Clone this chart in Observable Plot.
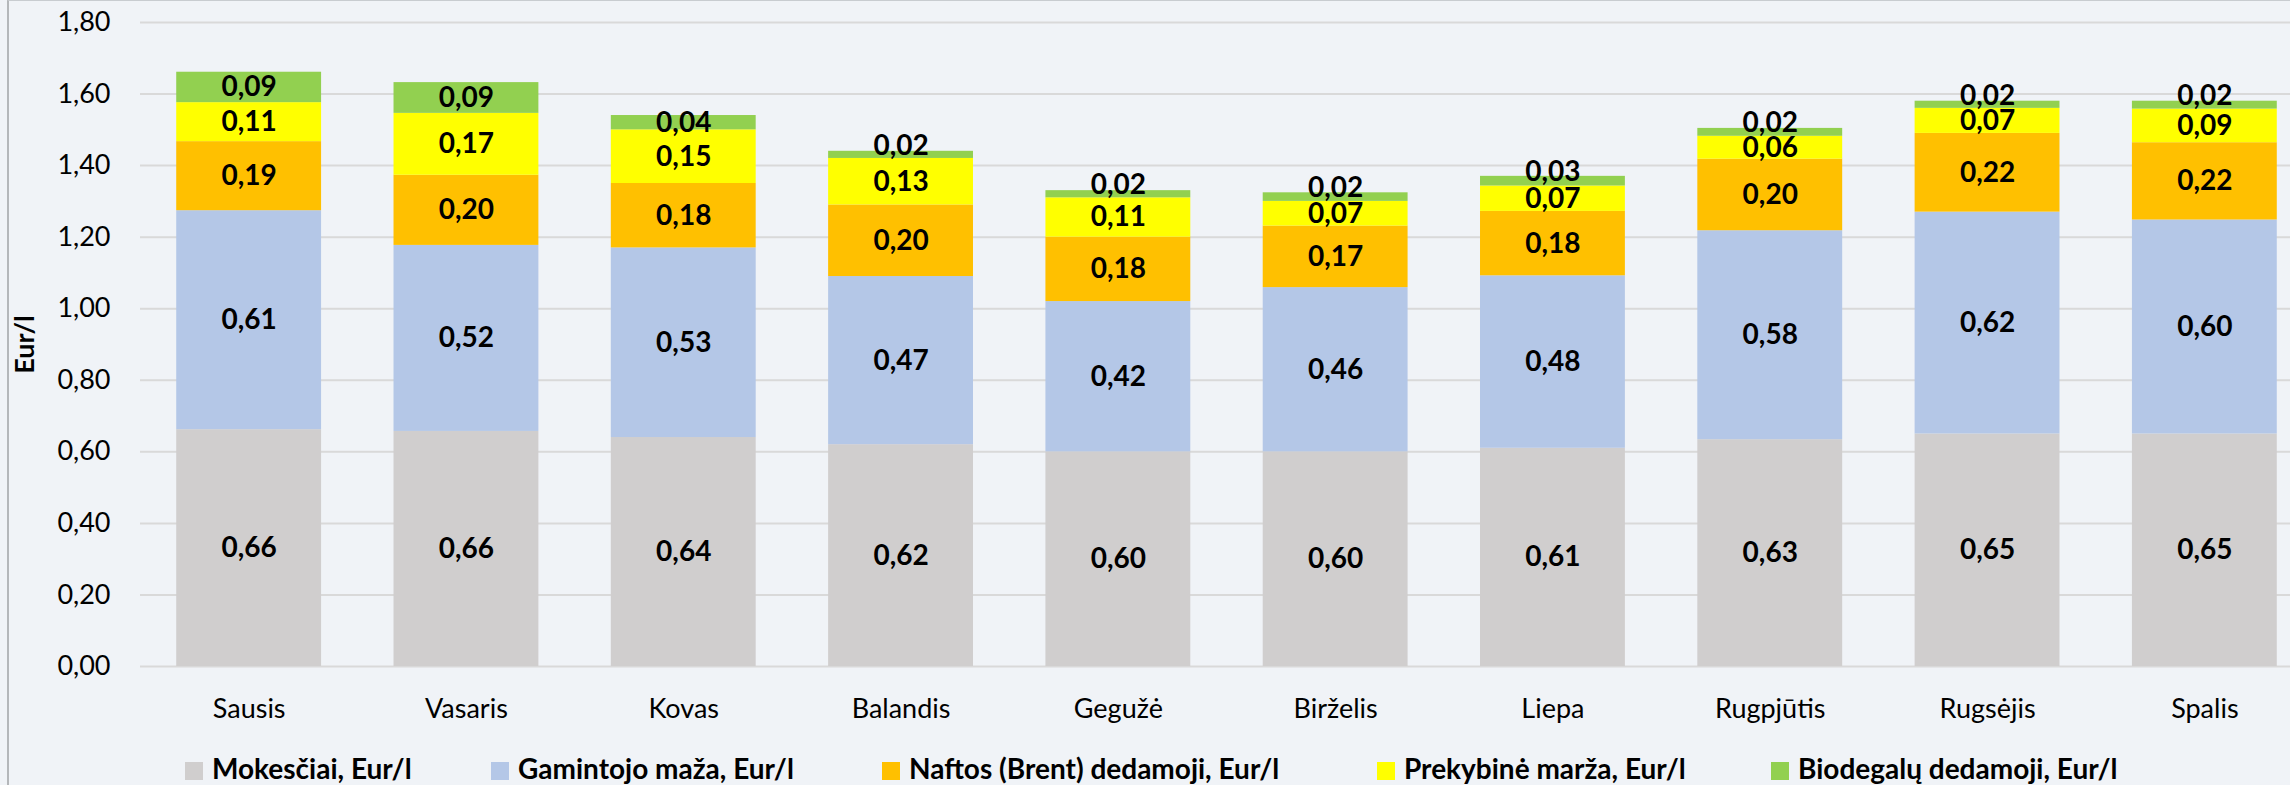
<!DOCTYPE html>
<html>
<head>
<meta charset="utf-8">
<script src="https://cdn.jsdelivr.net/npm/d3@7"></script>
<script src="https://cdn.jsdelivr.net/npm/@observablehq/plot@0.6"></script>
<style>
html, body { margin: 0; padding: 0; background: #f0f3f7; overflow: hidden; }
body { width: 2290px; height: 785px; position: relative; font-family: Lato, "Open Sans", sans-serif; }
#frame { position: absolute; left: 7px; top: 0; width: 2300px; height: 800px; border-left: 2px solid #b4b7ba; border-top: 1px solid #c8ccd0; pointer-events: none; }
#chart { position: absolute; left: 0; top: 0; }
#chart svg { display: block; }
#legend { position: absolute; left: 0; top: 745px; width: 2290px; height: 40px; }
.item { position: absolute; top: 0; height: 40px; }
.sw { position: absolute; top: 17px; left: 0; width: 18px; height: 18px; }
.lbl { position: absolute; top: 6px; left: 27px; white-space: nowrap; font-weight: 700; font-size: 28px; line-height: normal; color: #000; }
g[aria-label="y-axis label"] text { font-weight: 700; }
</style>
</head>
<body>
<div id="frame"></div>
<div id="chart"></div>
<div id="legend"></div>
<script>
// ---- data ----
const months = ["Sausis", "Vasaris", "Kovas", "Balandis", "Gegužė", "Birželis", "Liepa", "Rugpjūtis", "Rugsėjis", "Spalis"];
const seriesNames = ["Mokesčiai, Eur/l", "Gamintojo maža, Eur/l", "Naftos (Brent) dedamoji, Eur/l", "Prekybinė marža, Eur/l", "Biodegalų dedamoji, Eur/l"];
const mokesciai = [0.662, 0.657, 0.64, 0.62, 0.60, 0.60, 0.61, 0.634, 0.65, 0.65];
const gamintojo = [0.612, 0.520, 0.53, 0.47, 0.42, 0.459, 0.482, 0.584, 0.62, 0.598];
const naftos    = [0.193, 0.196, 0.18, 0.20, 0.18, 0.172, 0.180, 0.200, 0.22, 0.216];
const prekybine = [0.109, 0.173, 0.15, 0.13, 0.11, 0.069, 0.071, 0.064, 0.07, 0.094];
const biodegalu = [0.085, 0.086, 0.04, 0.02, 0.02, 0.024, 0.027, 0.022, 0.02, 0.022];
const yTicks = [0, 0.2, 0.4, 0.6, 0.8, 1.0, 1.2, 1.4, 1.6, 1.8];

// ---- styles / layout ----
const colors = ["#d0cece", "#b4c7e7", "#ffc000", "#ffff00", "#92d050"];
const legendLeft = [185, 491, 882, 1377, 1771];

const seriesValues = [mokesciai, gamintojo, naftos, prekybine, biodegalu];
const rows = [];
months.forEach((m, i) => {
  seriesNames.forEach((s, j) => rows.push({month: m, series: s, value: seriesValues[j][i]}));
});
const fmt = v => (Math.round(v * 100) / 100).toFixed(2).replace(".", ",");
const small = 0.035;

const chart = Plot.plot({
  width: 2290,
  height: 745,
  marginLeft: 140,
  marginRight: 0,
  marginTop: 22,
  marginBottom: 79,
  style: {background: "transparent", fontFamily: "Lato, 'Open Sans', sans-serif", fontSize: "27px", color: "#000", overflow: "visible"},
  x: {type: "band", domain: months, range: [140, 2313], paddingInner: 1/3, paddingOuter: 1/6, align: 0.5, round: false},
  y: {domain: [0, 1.8]},
  color: {domain: seriesNames, range: colors},
  marks: [
    Plot.gridY(yTicks, {stroke: "#d9d9d9", strokeOpacity: 1, strokeWidth: 2}),
    Plot.barY(rows, {x: "month", y: "value", fill: "series"}),
    Plot.text(rows, Plot.stackY({x: "month", y: "value", z: "series",
      text: d => d.value >= small ? fmt(d.value) : "",
      fill: "#000", fontWeight: 700, fontSize: 28})),
    Plot.text(rows, Plot.stackY({x: "month", y: "value", z: "series",
      text: d => d.value < small ? fmt(d.value) : "",
      fill: "#000", fontWeight: 700, fontSize: 28, dy: -9})),
    Plot.axisY({ticks: yTicks, tickFormat: fmt, tickSize: 0, tickPadding: 30, fontSize: 27,
      label: "Eur/l", labelAnchor: "center", labelOffset: 126, labelArrow: "none"}),
    Plot.axisX({tickSize: 0, tickPadding: 32, fontSize: 27, label: null})
  ]
});
document.getElementById("chart").appendChild(chart);

// ---- legend ----
const legend = document.getElementById("legend");
seriesNames.forEach((s, j) => {
  const item = document.createElement("div");
  item.className = "item";
  item.style.left = legendLeft[j] + "px";
  const sw = document.createElement("div");
  sw.className = "sw";
  sw.style.background = colors[j];
  const lbl = document.createElement("div");
  lbl.className = "lbl";
  lbl.textContent = s;
  item.appendChild(sw);
  item.appendChild(lbl);
  legend.appendChild(item);
});
</script>
</body>
</html>
